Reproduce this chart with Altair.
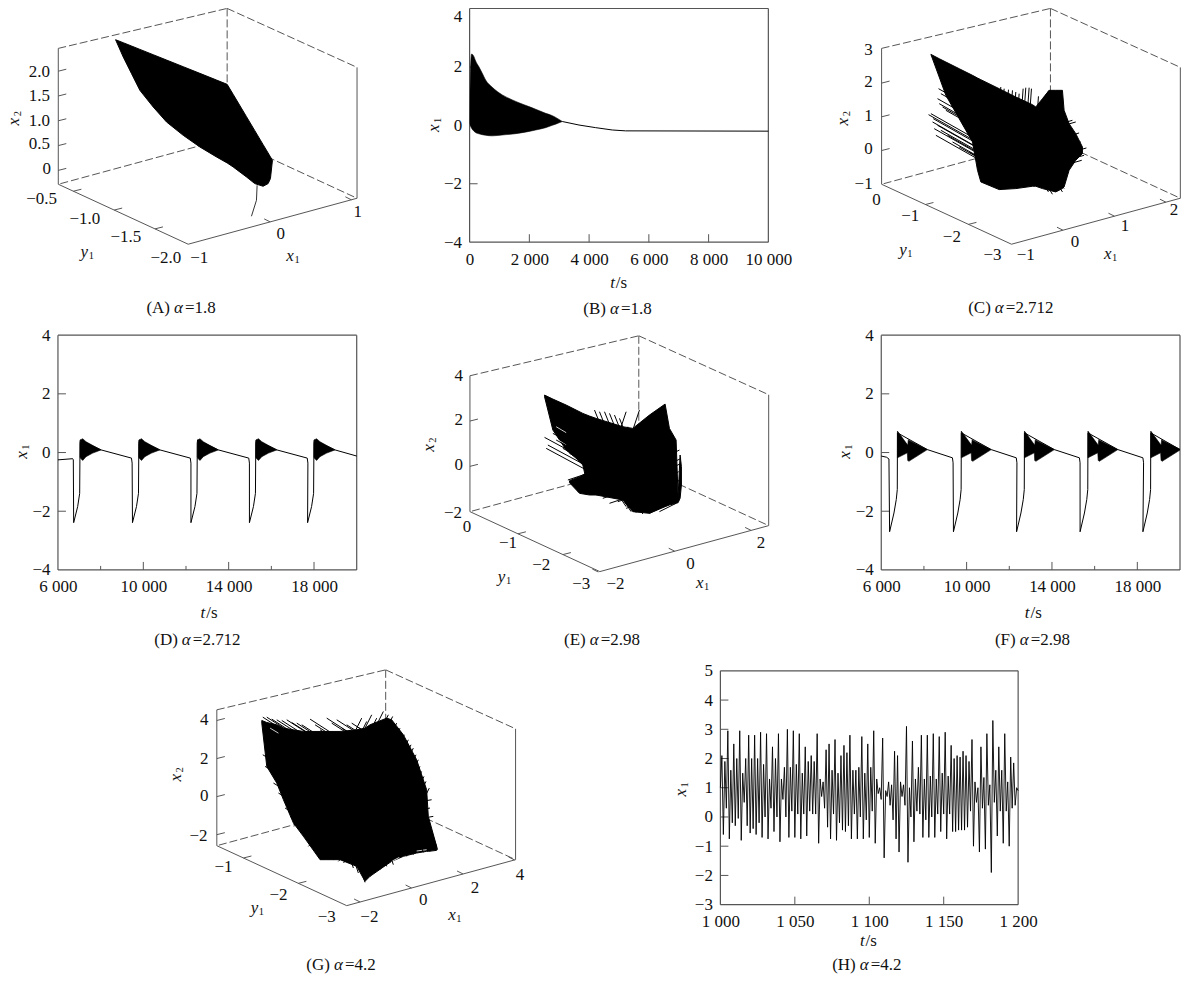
import altair as alt
import pandas as pd

FONT = "Liberation Serif"
INK = "#000000"
FRAME = "#555555"
TICKFS = 17
CAPFS = 17

# ---------- 2-D time series ----------
B_T = [0, 30, 67, 145, 201, 312, 424, 536, 759, 1094, 1429, 1652, 1987, 2210, 2545, 2768, 2880, 3103]
B_UP = [0.07, 1.9, 2.44, 2.35, 2.2, 2.0, 1.78, 1.55, 1.3, 1.04, 0.87, 0.77, 0.64, 0.55, 0.41, 0.33, 0.27, 0.13]
B_LO = [0.07, -0.02, -0.1, -0.2, -0.25, -0.29, -0.32, -0.34, -0.36, -0.33, -0.3, -0.27, -0.21, -0.16, -0.08, 0.0, 0.04, 0.13]
B_TAIL_T = [3103, 3661, 4219, 4777, 5223, 10000]
B_TAIL_X = [0.13, 0.01, -0.08, -0.16, -0.19, -0.2]

D_HEAD_T = [6000, 6690, 6720]
D_HEAD_X = [-0.25, -0.21, -0.25]
D_DROPS = [6736, 9492, 12232, 14973, 17698]
D_LINE_DT = [0, 188, 282, 298, 313, 1284, 2709, 2740]
D_LINE_X = [-2.39, -1.84, -1.39, 0.32, 0.43, 0.09, -0.19, -0.36]
D_BURST_DT = [298, 313, 423, 580, 892, 1284]
D_BURST_UP = [0.32, 0.43, 0.47, 0.37, 0.24, 0.09]
D_BURST_LO = [-0.15, -0.19, -0.27, -0.14, -0.02, 0.09]

F_HEAD_T = [6000, 6250, 6360]
F_HEAD_X = [-0.12, -0.16, -0.22]
F_DROPS = [6391, 9383, 12342, 15318, 18262]
F_LINE_DT = [0, 204, 313, 360, 368, 1770, 2944, 2975]
F_LINE_X = [-2.7, -2.06, -1.6, -1.26, 0.67, 0.1, -0.18, -0.35]
F_BURST_DT = [368, 830, 850, 877, 900, 1770]
F_BURST_UP = [0.73, 0.27, 0.25, 0.44, 0.42, 0.1]
F_BURST_LO = [-0.18, -0.01, -0.27, -0.28, -0.3, 0.1]

H_PEAKS = [2.1,1.9,2.95,1.6,2.5,2.0,2.95,1.5,2.0,2.8,2.0,2.8,2.0,2.9,1.8,2.85,1.3,2.4,2.0,2.85,1.3,1.7,3.0,1.7,2.95,
           1.8,2.85,1.5,2.4,1.9,2.1,1.9,2.85,1.3,1.2,2.3,2.5,1.6,2.65,1.5,2.1,2.45,2.2,
           2.8,1.6,1.6,1.7,2.75,1.5,2.5,1.7,2.95,1.3,1.0,2.7,0.9,1.2,1.1,2.25,2.1,1.2,1.1,3.1,1.0,2.6,1.3,1.7,2.8,1.3,2.8,
           1.4,2.85,1.3,2.75,1.5,2.9,1.4,2.45,2.0,2.1,2.05,2.25,2.1,1.9,2.65,1.2,1.0,2.4,1.35,2.85,1.1,3.3,1.6,2.4,1.6,2.85,
           1.2,2.05,1.85,1.0]
H_TROUGHS = [-0.6,0.3,-0.75,-0.2,-0.3,-0.05,-0.8,0.5,-0.3,-0.55,-0.4,-0.6,-0.2,-0.7,0.0,-0.75,0.3,-0.5,0.0,-0.85,0.6,0.0,-0.7,
             0.2,-0.7,0.1,-0.75,0.1,-0.65,0.2,0.1,0.1,-0.9,0.7,0.3,-0.35,-0.75,0.1,-0.8,-0.2,-0.45,-0.5,-0.3,
             -0.75,0.1,-0.75,0.0,-0.75,-0.1,-0.7,0.2,-0.9,0.8,0.6,-1.4,0.7,0.4,-0.1,-0.75,-1.2,0.7,0.4,-1.55,0.0,-0.85,0.2,0.1,
             -0.7,-0.1,-0.7,0.0,-0.7,0.1,-0.5,0.1,-0.75,0.1,-0.5,-0.5,-0.45,-0.45,-0.45,-0.35,0.2,-1.0,0.5,-1.2,0.3,-1.1,0.4,
             -1.9,0.5,-0.65,0.2,-0.9,0.2,-1.0,0.3,0.4,0.9]
H_START = 1.0

# ---------- phase portraits: values on the projected plane ----------
A_ENV_U = [347, 370, 395, 420, 460, 500, 550, 600, 650, 682, 700, 740, 765, 790, 805, 812, 818]
A_ENV_TOP = [88, 97, 107, 117, 133, 149, 169, 189, 209, 222, 252, 319, 361, 403, 428, 440, 450]
A_ENV_BOT = [88, 140, 190, 240, 290, 335, 375, 410, 440, 458, 470, 500, 520, 528, 520, 505, 450]
A_TAIL_U = [772, 770, 755]
A_TAIL_V = [525, 570, 618]

C_ENV_U = [395, 420, 440, 480, 520, 535, 545, 600, 650, 700, 710, 730, 750, 770, 790, 795, 810, 830, 850]
C_ENV_TOP = [132, 145, 155, 175, 195, 203, 208, 235, 260, 283, 290, 265, 240, 240, 240, 300, 340, 370, 410]
C_ENV_BOT = [132, 200, 255, 325, 395, 480, 515, 538, 535, 528, 528, 535, 540, 545, 535, 530, 480, 450, 430]
C_SPIKES = [
    (150, 85, [418, 425, 440, 415, 420, 430, 440, 395, 388, 402, 400, 405, 410, 415, 425, 445, 460, 480, 510, 540],
     [235, 250, 258, 265, 280, 290, 300, 310, 313, 325, 335, 355, 375, 345, 360, 375, 395, 410, 425, 430]),
    (-5, 70, [605, 615, 628, 640, 650, 660, 672, 680, 690, 697, 718],
     [230, 235, 238, 240, 245, 250, 235, 232, 232, 235, 258]),
    (-35, 50, [750], [240]),
    (-70, 20, [795, 820, 830, 810, 840, 825, 862, 845, 855, 848, 815, 810],
     [320, 330, 335, 350, 368, 375, 413, 395, 435, 450, 465, 430]),
    (-25, -40, [760, 748, 735, 795, 790], [552, 545, 530, 535, 545]),
]
C_GAPS = [(420, 310, 470, 340), (430, 340, 490, 375), (440, 300, 470, 318), (460, 375, 510, 405)]

E_ENV_U = [405, 430, 470, 500, 520, 540, 560, 640, 670, 720, 767, 780, 800, 812, 816, 806]
E_ENV_TOP = [195, 207, 225, 240, 250, 258, 265, 290, 295, 255, 222, 295, 330, 375, 410, 500]
E_ENV_BOT = [200, 300, 360, 385, 405, 495, 495, 510, 545, 550, 530, 525, 520, 505, 465, 518]
E_LOW_U = [480, 510, 540]
E_LOW_TOP = [452, 440, 425]
E_LOW_BOT = [458, 490, 495]
E_SPIKES = [
    (130, 70, [405, 415, 410, 430, 425, 440, 430, 445, 460, 480, 500, 520, 530],
     [322, 345, 355, 290, 265, 330, 310, 285, 355, 370, 385, 405, 420]),
    (60, -20, [475, 490, 505, 520, 540, 560, 580, 600, 625, 650],
     [450, 465, 485, 490, 490, 495, 505, 520, 515, 535]),
    (20, 50, [555, 570, 585, 600, 615, 630], [240, 245, 245, 250, 255, 265]),
    (-20, 60, [650, 655, 690, 722], [245, 290, 240, 255]),
    (-50, 25, [762, 775, 790, 800, 810, 815, 815, 808, 812, 810, 800, 770],
     [295, 310, 325, 345, 360, 385, 400, 425, 450, 490, 520, 525]),
    (-20, -30, [745, 720, 700, 680, 665, 650], [535, 550, 552, 548, 545, 530]),
]
E_GAPS = [(430, 320, 470, 345), (440, 290, 470, 308)]

G_ENV_U = [275, 290, 320, 340, 370, 400, 450, 510, 560, 585, 600, 650, 665, 700, 740, 770, 775, 800]
G_ENV_TOP = [182, 188, 195, 205, 210, 215, 215, 215, 210, 205, 195, 175, 180, 225, 300, 390, 470, 560]
G_ENV_BOT = [190, 320, 370, 420, 490, 530, 600, 600, 620, 665, 650, 615, 605, 590, 580, 575, 575, 572]
G_SPIKES = [
    (70, 45, [278, 290, 305, 320, 335, 350, 365, 380, 395, 420, 435, 450, 470, 485, 500, 515, 530, 545, 560],
     [172, 172, 178, 180, 182, 180, 188, 190, 195, 178, 195, 210, 175, 190, 180, 205, 195, 190, 200]),
    (-30, 60, [575, 590, 605, 620, 640, 655, 668, 680, 690, 703, 715, 723, 730, 738, 745, 750, 755, 762, 768, 778],
     [175, 185, 165, 175, 155, 165, 170, 190, 205, 225, 240, 255, 265, 285, 300, 320, 335, 350, 365, 385]),
    (-60, 10, [785, 780, 790, 780, 770], [420, 445, 470, 490, 500]),
    (100, 60, [278, 290, 300, 285, 300, 325, 310, 330, 325, 345, 345, 360],
     [285, 290, 295, 320, 310, 345, 370, 385, 400, 420, 445, 470]),
    (70, -70, [372, 385, 400, 415, 430, 447, 460, 475, 490, 505, 520], [500, 510, 530, 560, 570, 590, 600, 598, 600, 605, 610]),
    (-20, -60, [535, 550, 565, 585, 600, 615, 630, 650, 670, 690, 710, 730, 760, 780, 803],
     [610, 625, 640, 668, 650, 640, 630, 620, 615, 595, 590, 585, 578, 575, 570]),
]
G_GAPS = [(300, 205, 325, 220), (770, 570, 740, 574), (690, 592, 665, 605)]


def plain_text(text, px, py, size=TICKFS, italic=False, align="center", angle=0):
    kw = dict(text=text, font=FONT, fontSize=size, color="#111111", align=align, baseline="middle")
    if italic:
        kw["fontStyle"] = "italic"
    if angle:
        kw["angle"] = angle
    return alt.Chart(pd.DataFrame({"a": [1]})).mark_text(**kw).encode(x=alt.value(px), y=alt.value(py))


def caption(prefix, alpha_value, cx, py):
    sw = {4: 32, 5: 40, 6: 49}[len(alpha_value)]
    pw, aw = 28, 11
    start = cx - (pw + aw + sw) / 2
    return [
        plain_text(prefix, start + pw - 4, py, CAPFS, align="right"),
        plain_text("α", start + pw, py, CAPFS, italic=True, align="left"),
        plain_text(alpha_value, start + pw + aw, py, CAPFS, align="left"),
    ]


def sub_title(letter, sub, px, py, vertical=False):
    if vertical:
        return [plain_text(letter, px, py + 3, TICKFS, True, angle=270),
                plain_text(sub, px + 4, py - 5, 10.5, angle=270)]
    return [plain_text(letter, px - 3, py, TICKFS, True),
            plain_text(sub, px + 4, py + 4, 10.5)]


def panel2d(width, height, xdom, ydom, xvals, yvals, major, minor, ytick, layers, xtitle_xy, ytitle_xy, cap, base4=False, dx=0):
    xs = alt.Scale(domain=xdom, range=[dx, dx + width], nice=False, zero=False)
    ys = alt.Scale(domain=ydom, nice=False, zero=False)
    lab = "replace(format(datum.value,','),',',' ')"
    yaxis = dict(values=yvals, labelFontSize=TICKFS, labelFont=FONT, labelColor="#111111", domain=False,
                 grid=False, title=None, labelPadding=8, ticks=False, offset=-dx)
    if base4:
        yaxis["labelBaseline"] = {"condition": {"test": "datum.value == 4", "value": "top"}, "value": "middle"}
    xax = alt.Axis(values=xvals, labelExpr=lab, labelFontSize=TICKFS, labelFont=FONT, labelColor="#111111",
                   domain=False, grid=False, title=None, labelPadding=9, ticks=False, labelFlush=False)
    yax = alt.Axis(**yaxis)
    base = alt.Chart(pd.DataFrame({"x": [xdom[0]], "y": [ydom[0]]})).mark_point(opacity=0).encode(
        x=alt.X("x:Q", scale=xs, axis=xax), y=alt.Y("y:Q", scale=ys, axis=yax))
    one = pd.DataFrame({"a": [1]})
    sides = [
        alt.Chart(one).mark_rule(color=FRAME, strokeWidth=1.2).encode(x=alt.value(dx), x2=alt.value(dx + width), y=alt.value(0)),
        alt.Chart(one).mark_rule(color=FRAME, strokeWidth=1.2).encode(x=alt.value(dx), x2=alt.value(dx + width), y=alt.value(height)),
        alt.Chart(one).mark_rule(color=FRAME, strokeWidth=1.2).encode(x=alt.value(dx), y=alt.value(0), y2=alt.value(height)),
        alt.Chart(one).mark_rule(color=FRAME, strokeWidth=1.2).encode(x=alt.value(dx + width), y=alt.value(0), y2=alt.value(height)),
    ]
    t_major = alt.Chart(pd.DataFrame({"t": major})).mark_rule(color=FRAME, strokeWidth=1).encode(
        x=alt.X("t:Q", scale=xs, axis=xax), y=alt.value(height), y2=alt.value(height - 8))
    t_y = alt.Chart(pd.DataFrame({"v": ytick})).mark_rule(color=FRAME, strokeWidth=1).encode(
        y=alt.Y("v:Q", scale=ys, axis=yax), x=alt.value(dx), x2=alt.value(dx + 8))
    out = [base] + sides + [t_major, t_y]
    if minor:
        out.append(alt.Chart(pd.DataFrame({"t": minor})).mark_rule(color=FRAME, strokeWidth=1).encode(
            x=alt.X("t:Q", scale=xs, axis=xax), y=alt.value(height), y2=alt.value(height - 4)))
    for make in layers:
        out.append(make(xs, ys, xax, yax))
    out += [plain_text("t", dx + xtitle_xy[0] - 5, xtitle_xy[1], TICKFS, True),
            plain_text("/s", dx + xtitle_xy[0] + 4, xtitle_xy[1], TICKFS)]
    out += sub_title("x", "1", dx + ytitle_xy[0], ytitle_xy[1], True)
    out += caption(cap[0], cap[1], dx + cap[2], cap[3])
    return alt.layer(*out).properties(width=width, height=height)


def line_layer(t, x, width=1.0):
    df = pd.DataFrame({"t": t, "x": x, "o": list(range(len(t)))})
    def make(xs, ys, xax, yax):
        return alt.Chart(df).mark_line(color=INK, strokeWidth=width).encode(
            x=alt.X("t:Q", scale=xs, axis=xax), y=alt.Y("x:Q", scale=ys, axis=yax), order="o:Q")
    return make


def area_layer(rows, interpolate="linear"):
    df = pd.DataFrame(rows, columns=["t", "up", "lo", "c"])
    def make(xs, ys, xax, yax):
        return alt.Chart(df).mark_area(color=INK, strokeWidth=0.6, stroke=INK, clip=True, interpolate=interpolate).encode(
            x=alt.X("t:Q", scale=xs, axis=xax), y=alt.Y("up:Q", scale=ys, axis=yax), y2="lo:Q", detail="c:N")
    return make


BOX_U = dict(LT=0, LB=0, F=130, RB=299, RT=299, BT=169, BB=169)
BOX_V = dict(LT=40, LB=176, F=236, RB=190, RT=59, BT=0, BB=130)
SOLID = [("LT", "LB"), ("LB", "F"), ("F", "RB"), ("RB", "RT")]
DASHED = [("LT", "BT"), ("BT", "RT"), ("BT", "BB"), ("BB", "LB"), ("BB", "RB")]


def panel3d(cell, left, top, z, y1, x1, labels, titles, cap, envs, spikes, gaps=None, tail=None):
    x0, y0, w, h = cell
    xs = alt.Scale(domain=[x0, x0 + 3 * w], nice=False, zero=False)
    ys = alt.Scale(domain=[y0 + 3 * h, y0], nice=False, zero=False)
    X = alt.X("x:Q", scale=xs, axis=None)
    Y = alt.Y("y:Q", scale=ys, axis=None)
    def pt(k):
        return left + 3 * BOX_U[k], top + 3 * BOX_V[k]
    def seg(a, b):
        (xa, ya), (xb, yb) = pt(a), pt(b)
        return dict(x=xa, y=ya, x2=xb, y2=yb)
    layers = [
        alt.Chart(pd.DataFrame([seg(*e) for e in SOLID])).mark_rule(color=FRAME, strokeWidth=1).encode(x=X, y=Y, x2="x2:Q", y2="y2:Q"),
        alt.Chart(pd.DataFrame([seg(*e) for e in DASHED])).mark_rule(color=FRAME, strokeWidth=1, strokeDash=[8, 3]).encode(x=X, y=Y, x2="x2:Q", y2="y2:Q"),
    ]
    ticks = []
    def add_ticks(axis, a, b, dx, dy):
        dom, vals = axis
        (xa, ya), (xb, yb) = pt(a), pt(b)
        for v in vals:
            f = (v - dom[0]) / (dom[1] - dom[0])
            px, py = xa + f * (xb - xa), ya + f * (yb - ya)
            ticks.append(dict(x=px, y=py, x2=px + dx, y2=py + dy))
    add_ticks(z, "LB", "LT", 24, -6)
    add_ticks(y1, "LB", "F", 24, -6)
    add_ticks(x1, "F", "RB", -18, -9)
    layers.append(alt.Chart(pd.DataFrame(ticks)).mark_rule(color=FRAME, strokeWidth=1).encode(x=X, y=Y, x2="x2:Q", y2="y2:Q"))
    for u, top_v, bot_v in envs:
        df = pd.DataFrame({"x": u, "y": top_v, "b": bot_v})
        layers.append(alt.Chart(df).mark_area(color=INK, strokeWidth=1, stroke=INK).encode(x=X, y=Y, y2="b:Q"))
    if gaps:
        df = pd.DataFrame(gaps, columns=["x", "y", "x2", "y2"])
        layers.append(alt.Chart(df).mark_rule(color="#ffffff", strokeWidth=0.8).encode(x=X, y=Y, x2="x2:Q", y2="y2:Q"))
    rows = []
    for dx, dy, us, vs in spikes:
        for u, v in zip(us, vs):
            rows.append(dict(x=u, y=v, x2=u + dx, y2=v + dy))
    if rows:
        layers.append(alt.Chart(pd.DataFrame(rows)).mark_rule(color=INK, strokeWidth=1).encode(x=X, y=Y, x2="x2:Q", y2="y2:Q"))
    if tail:
        df = pd.DataFrame({"x": tail[0], "y": tail[1], "o": list(range(len(tail[0])))})
        layers.append(alt.Chart(df).mark_line(color="#333333", strokeWidth=1).encode(x=X, y=Y, order="o:Q"))
    df = pd.DataFrame(labels, columns=["s", "x", "y"])
    layers.append(alt.Chart(df).mark_text(font=FONT, fontSize=TICKFS, color="#111111", align="center", baseline="middle").encode(x=X, y=Y, text="s:N"))
    to_px = lambda zx: (zx - x0) / 3
    to_py = lambda zy: (zy - y0) / 3
    layers += sub_title("x", "2", to_px(titles[0][0]), to_py(titles[0][1]), True)
    layers += sub_title("y", "1", to_px(titles[1][0]), to_py(titles[1][1]))
    layers += sub_title("x", "1", to_px(titles[2][0]), to_py(titles[2][1]))
    layers += caption(cap[0], cap[1], to_px(cap[2]), to_py(cap[3]))
    return alt.layer(*layers).properties(width=w, height=h)


# ---------- cycles ----------
def cycles(head_t, head_x, drops, dt, vals, end):
    t, x = list(head_t), list(head_x)
    for d in drops:
        for a, b in zip(dt, vals):
            if d + a <= end[0]:
                t.append(d + a)
                x.append(b)
    t.append(end[0])
    x.append(end[1])
    return t, x


def bursts(drops, dt, up, lo):
    rows = []
    for i, d in enumerate(drops):
        for a, b, c in zip(dt, up, lo):
            rows.append((d + a, b, c, i))
    return rows


d_t, d_x = cycles(D_HEAD_T, D_HEAD_X, D_DROPS, D_LINE_DT, D_LINE_X, (20000, -0.12))
f_t, f_x = cycles(F_HEAD_T, F_HEAD_X, F_DROPS, F_LINE_DT, F_LINE_X, (20000, 0.1))
h_t = list(range(1000, 1201))
h_x = [H_START]
for p, q in zip(H_PEAKS, H_TROUGHS):
    h_x += [p, q]
h_t = h_t[: len(h_x)]
h_x = h_x[: len(h_t)]

A = panel3d((174, -6, 299, 234), 175, -6, ([-0.28, 2.46], [0, 0.5, 1, 1.5, 2]), ([-0.315, -1.907], [-0.5, -1, -1.5]), ([-1.01, 1.07], [0, 1]),
            [("2.0", 118, 185), ("1.5", 118, 258), ("1.0", 118, 331), ("0.5", 118, 400), ("0", 140, 475),
             ("−0.5", 125, 565), ("−1.0", 255, 625), ("−1.5", 378, 680), ("−2.0", 498, 742),
             ("−1", 598, 742), ("0", 843, 672), ("1", 1074, 606)],
            [(41, 325), (262, 725), (880, 738)], ("(A)", "=1.8", 545, 895),
            [(A_ENV_U, A_ENV_TOP, A_ENV_BOT)], [], tail=(A_TAIL_U, A_TAIL_V))

B = panel2d(299, 234, [0, 10000], [-4, 4], [0, 2000, 4000, 6000, 8000, 10000], [-4, -2, 0, 2, 4],
            [2000, 4000, 6000, 8000], [], [-2, 0, 2],
            [area_layer([(a, b, c, 0) for a, b, c in zip(B_T, B_UP, B_LO)], "monotone"), line_layer(B_TAIL_T, B_TAIL_X)],
            (148, 275), (-36, 117), ("(B)", "=1.8", 148, 301), base4=True)

C = panel3d((246, -6, 299, 234), 247, -6, ([-1, 3.03], [0, 1, 2]), ([0.02, -3], [-1, -2]), ([-1, 2.28], [0, 1, 2]),
            [("3", 208, 118), ("2", 208, 215), ("1", 208, 318), ("0", 208, 415), ("−1", 193, 522),
             ("0", 232, 568), ("−1", 333, 618), ("−2", 458, 680), ("−3", 580, 735),
             ("−1", 680, 735), ("0", 828, 695), ("1", 978, 648), ("2", 1125, 600)],
            [(130, 325), (320, 718), (935, 730)], ("(C)", "=2.712", 635, 895),
            [(C_ENV_U, C_ENV_TOP, C_ENV_BOT)], C_SPIKES, C_GAPS)

D = panel2d(299, 235, [6000, 20000], [-4, 4], [6000, 10000, 14000, 18000], [-4, -2, 0, 2, 4],
            [10000, 14000, 18000], [8000, 12000, 16000], [-2, 0, 2],
            [line_layer(d_t, d_x), area_layer(bursts(D_DROPS, D_BURST_DT, D_BURST_UP, D_BURST_LO))],
            (150, 278), (-36, 117), ("(D)", "=2.712", 140, 305))

E = panel3d((180, 15, 299, 243), 181, 17, ([-2, 4], [0, 2]), ([0.066, -2.82], [-1, -2]), ([-1.96, 2.46], [-2, 0, 2]),
            [("4", 147, 138), ("2", 147, 270), ("0", 147, 405), ("−2", 130, 548),
             ("0", 172, 590), ("−1", 295, 640), ("−2", 395, 705), ("−3", 515, 762),
             ("−2", 618, 762), ("0", 843, 703), ("2", 1055, 640)],
            [(58, 345), (285, 740), (880, 760)], ("(E)", "=2.98", 575, 930),
            [(E_ENV_U, E_ENV_TOP, E_ENV_BOT), (E_LOW_U, E_LOW_TOP, E_LOW_BOT)], E_SPIKES, E_GAPS)

F = panel2d(299, 235, [6000, 20000], [-4, 4], [6000, 10000, 14000, 18000], [-4, -2, 0, 2, 4],
            [10000, 14000, 18000], [8000, 12000, 16000], [-2, 0, 2],
            [line_layer(f_t, f_x), area_layer(bursts(F_DROPS, F_BURST_DT, F_BURST_UP, F_BURST_LO))],
            (151, 278), (-36, 117), ("(F)", "=2.98", 150, 305))

G = panel3d((-337, 33, 299, 234), 140, 30, ([-2.58, 4.56], [-2, 0, 2, 4]), ([-0.515, -2.88], [-1, -2]), ([-2.52, 4.04], [-2, 0, 2, 4]),
            [("4", 102, 180), ("2", 102, 297), ("0", 102, 410), ("−2", 85, 528),
             ("−1", 160, 622), ("−2", 325, 705), ("−3", 470, 772),
             ("−2", 598, 772), ("0", 760, 722), ("2", 915, 685), ("4", 1050, 645)],
            [(18, 345), (262, 745), (855, 765)], ("(G)", "=4.2", 514, 915),
            [(G_ENV_U, G_ENV_TOP, G_ENV_BOT)], G_SPIKES, G_GAPS)

H = panel2d(298, 234, [1000, 1200], [-3, 5], [1000, 1050, 1100, 1150, 1200], [-3, -2, -1, 0, 1, 2, 3, 4, 5],
            [1050, 1100, 1150], [], [-2, -1, 0, 1, 2, 3, 4],
            [line_layer(h_t, h_x, 0.9)],
            (147, 270), (-39, 119), ("(H)", "=4.2", 147, 294), dx=251)

chart = alt.concat(A, B, C, D, E, F, G, H, columns=3, spacing={"row": 93, "column": 113},
                   bounds="flush", align=alt.RowColLayoutAlign(row="each", column="all")).properties(
    padding={"left": -4, "top": -2, "right": 0, "bottom": 0}
).configure_view(stroke="transparent")

chart.save("out.html", embed_options={"renderer": "svg", "actions": False})
